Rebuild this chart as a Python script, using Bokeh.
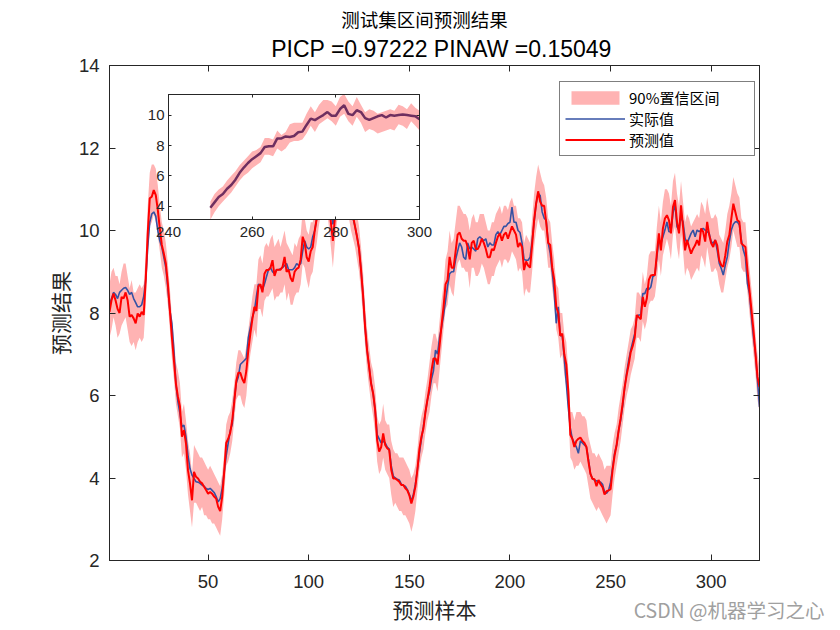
from bokeh.plotting import figure
from bokeh.models import (Range1d, LinearAxis, FixedTicker, Legend, LegendItem,
                          Label, GridBox, Column)
from bokeh.embed import file_html
from bokeh.resources import INLINE

# ---------------- data ----------------
ACTUAL = [
    8.20, 8.35, 8.50, 8.45, 8.35, 8.50, 8.55, 8.60, 8.62, 8.55,
    8.45, 8.50, 8.35, 8.25, 8.15, 8.15, 8.20, 8.40, 8.80, 9.60,
    10.20, 10.40, 10.45, 10.35, 10.00, 9.75, 9.60, 9.35, 9.10, 8.60,
    8.07, 7.75, 7.10, 6.29, 5.85, 5.56, 5.24, 5.28, 5.00, 4.55,
    4.23, 4.07, 3.99, 3.91, 3.90, 3.87, 3.83, 3.80, 3.75, 3.72,
    3.75, 3.70, 3.65, 3.55, 3.42, 3.50, 3.75, 4.15, 4.55, 4.85,
    5.15, 5.30, 5.90, 6.30, 6.45, 6.75, 6.80, 6.85, 6.90, 7.40,
    7.65, 7.90, 8.05, 8.40, 8.70, 8.65, 8.55, 8.70, 8.88, 9.05,
    9.10, 9.00, 8.95, 9.05, 9.05, 9.07, 9.10, 9.15, 9.20, 9.05,
    9.05, 9.05, 9.10, 9.20, 9.15, 9.20, 9.50, 9.75, 9.60, 9.55,
    9.60, 9.85, 10.00, 10.30, 10.70, 10.90, 11.10, 11.20, 11.00, 10.80,
    10.50, 10.15, 10.40, 10.70, 10.90, 11.10, 11.20, 11.00, 10.90, 10.80,
    10.60, 10.30, 10.10, 9.85, 9.56, 9.04, 8.43, 7.67, 7.10, 6.70,
    6.29, 6.05, 5.65, 5.05, 4.95, 4.85, 4.90, 4.85, 4.75, 4.70,
    4.30, 4.05, 4.00, 3.97, 3.95, 3.85, 3.82, 3.80, 3.72, 3.60,
    3.45, 3.60, 3.85, 4.20, 4.60, 4.95, 5.25, 5.60, 5.90, 6.10,
    6.40, 6.60, 7.10, 7.00, 7.40, 7.65, 7.95, 8.30, 8.65, 8.95,
    9.00, 9.00, 9.30, 9.50, 9.70, 9.60, 9.35, 9.30, 9.70, 9.55,
    9.60, 9.55, 9.50, 9.80, 9.85, 9.80, 9.75, 9.80, 9.60, 9.70,
    9.65, 9.65, 9.90, 9.97, 9.90, 10.00, 10.10, 10.10, 10.17, 10.20,
    10.57, 10.20, 10.20, 10.00, 9.95, 9.70, 9.30, 9.28, 9.28, 9.35,
    9.75, 10.20, 10.65, 10.90, 10.85, 10.45, 10.30, 10.25, 9.70, 9.45,
    9.00, 8.50, 7.75, 8.15, 7.45, 7.45, 6.90, 6.30, 5.70, 5.20,
    4.95, 4.85, 4.75, 4.60, 4.90, 4.85, 4.80, 4.75, 4.45, 4.10,
    3.98, 3.95, 3.93, 3.92, 3.90, 3.85, 3.67, 3.63, 3.70, 3.90,
    4.25, 4.60, 4.80, 5.15, 5.40, 5.75, 6.20, 6.55, 6.85, 7.10,
    7.30, 7.50, 7.90, 7.95, 7.95, 8.47, 8.47, 8.60, 8.57, 8.63,
    8.88, 8.92, 9.36, 9.78, 9.68, 9.85, 10.01, 10.21, 9.97, 9.97,
    10.41, 10.66, 10.09, 10.01, 10.33, 10.21, 9.81, 9.69, 9.81, 9.93,
    10.01, 9.85, 10.01, 9.97, 10.01, 10.05, 10.01, 9.97, 9.93, 9.73,
    9.69, 9.77, 9.52, 9.20, 9.08, 8.92, 9.16, 9.36, 9.73, 10.01,
    10.15, 10.21, 10.21, 10.13, 9.77, 9.52, 9.36, 8.72, 8.47, 7.91,
    7.42, 7.02, 6.37, 5.72,
]

PREDICTED = [
    8.03, 8.31, 8.47, 8.31, 8.10, 8.00, 8.39, 8.35, 8.50, 8.31,
    7.91, 7.95, 7.87, 7.75, 7.99, 7.91, 8.03, 7.95, 8.80, 9.93,
    10.78, 10.82, 10.98, 10.86, 10.50, 10.05, 9.65, 9.44, 9.20, 8.71,
    8.07, 7.42, 6.86, 6.29, 5.97, 5.74, 5.00, 5.16, 4.84, 4.19,
    3.87, 3.46, 4.15, 4.03, 3.99, 3.91, 3.87, 3.79, 3.71, 3.62,
    3.66, 3.62, 3.55, 3.50, 3.30, 3.20, 3.55, 4.15, 4.85, 4.95,
    5.10, 5.40, 5.85, 6.35, 6.55, 6.55, 6.40, 6.30, 6.60, 7.10,
    7.50, 7.85, 8.15, 8.05, 8.65, 8.70, 8.50, 8.95, 9.04, 9.04,
    9.10, 9.28, 8.90, 9.05, 9.05, 9.05, 9.12, 9.36, 9.00, 9.05,
    8.85, 8.76, 9.00, 9.07, 9.10, 9.30, 9.85, 9.70, 9.35, 9.25,
    9.50, 9.60, 10.00, 10.30, 10.70, 11.00, 11.20, 11.30, 11.10, 10.70,
    10.20, 9.75, 10.30, 10.80, 11.00, 11.20, 11.10, 11.00, 11.00, 10.90,
    10.60, 10.35, 10.10, 9.85, 9.56, 9.04, 8.43, 7.67, 7.10, 6.70,
    6.29, 6.05, 5.65, 4.92, 4.64, 4.75, 5.08, 4.80, 4.72, 4.68,
    4.20, 3.99, 3.99, 3.95, 3.91, 3.83, 3.83, 3.75, 3.70, 3.58,
    3.38, 3.55, 3.79, 4.20, 4.70, 5.00, 5.20, 5.60, 5.90, 6.20,
    6.60, 6.90, 6.90, 6.75, 7.20, 7.70, 8.15, 8.70, 8.80, 9.36,
    9.10, 9.10, 9.50, 9.90, 9.95, 9.80, 9.75, 9.75, 9.60, 9.30,
    9.70, 9.75, 9.55, 9.55, 9.65, 9.80, 9.70, 9.55, 9.35, 9.35,
    9.55, 9.52, 9.70, 9.85, 9.93, 9.75, 9.90, 9.95, 9.80, 9.95,
    10.10, 10.00, 9.90, 9.60, 9.70, 9.60, 9.04, 9.25, 9.15, 9.10,
    9.65, 10.25, 10.65, 10.95, 10.70, 10.60, 10.60, 10.20, 9.70, 9.65,
    9.10, 8.80, 8.15, 8.00, 7.45, 7.50, 7.00, 6.75, 6.10, 5.05,
    4.95, 4.75, 4.90, 4.95, 4.98, 4.90, 4.85, 4.75, 4.40, 4.10,
    3.98, 3.97, 3.80, 3.95, 3.85, 3.78, 3.60, 3.68, 3.70, 3.73,
    4.20, 4.55, 4.80, 5.15, 5.45, 5.80, 6.20, 6.50, 6.75, 7.05,
    7.20, 7.40, 7.95, 7.90, 7.85, 8.39, 8.15, 8.35, 8.80, 8.91,
    8.92, 8.92, 9.44, 9.93, 9.52, 10.05, 10.29, 10.37, 10.25, 9.93,
    10.57, 10.74, 10.21, 9.93, 10.61, 10.09, 9.52, 9.77, 9.60, 9.44,
    9.56, 9.64, 9.77, 9.64, 10.05, 9.97, 9.73, 10.21, 9.89, 9.69,
    9.60, 9.77, 9.64, 9.28, 9.16, 9.12, 9.40, 9.73, 9.89, 10.29,
    10.65, 10.45, 10.25, 10.21, 9.69, 9.64, 9.60, 9.04, 8.56, 8.07,
    7.58, 7.02, 6.45, 6.21,
]

UPPER = [
    8.7, 9.0, 9.1, 8.9, 8.9, 8.7, 9.0, 9.2, 9.2, 8.9,
    8.6, 8.8, 8.5, 8.5, 8.6, 8.7, 8.6, 8.7, 9.4, 10.6,
    11.4, 11.6, 11.6, 11.5, 11.1, 10.6, 10.2, 10.0, 9.7, 9.2,
    8.6, 7.9, 7.4, 6.8, 6.6, 6.3, 5.6, 5.8, 5.4, 4.9,
    4.6, 4.1, 4.8, 4.7, 4.6, 4.5, 4.5, 4.4, 4.3, 4.2,
    4.3, 4.2, 4.1, 4.0, 3.9, 3.8, 4.1, 4.6, 5.3, 5.5,
    5.6, 5.9, 6.3, 6.8, 7.1, 7.1, 7.0, 6.9, 7.2, 7.6,
    8.0, 8.4, 8.7, 8.7, 9.3, 9.4, 9.2, 9.6, 9.7, 9.6,
    9.8, 9.9, 9.6, 9.7, 9.8, 9.6, 9.8, 10.0, 9.7, 9.6,
    9.5, 9.4, 9.7, 9.6, 9.8, 9.9, 10.5, 10.3, 10.0, 9.9,
    10.2, 10.2, 10.6, 10.9, 11.3, 11.6, 11.8, 11.9, 11.7, 11.3,
    10.8, 10.4, 10.9, 11.4, 11.6, 11.8, 11.7, 11.6, 11.6, 11.5,
    11.2, 10.9, 10.7, 10.4, 10.1, 9.6, 9.0, 8.2, 7.6, 7.2,
    6.8, 6.6, 6.2, 5.5, 5.3, 5.4, 5.8, 5.4, 5.3, 5.3,
    4.9, 4.7, 4.6, 4.6, 4.5, 4.5, 4.5, 4.4, 4.3, 4.2,
    4.0, 4.1, 4.3, 4.7, 5.2, 5.5, 5.7, 6.1, 6.4, 6.8,
    7.2, 7.5, 7.5, 7.3, 7.8, 8.3, 8.7, 9.3, 9.5, 10.0,
    9.7, 9.8, 10.2, 10.6, 10.6, 10.5, 10.4, 10.4, 10.3, 10.0,
    10.3, 10.4, 10.2, 10.2, 10.4, 10.4, 10.4, 10.2, 10.0, 10.0,
    10.2, 10.2, 10.4, 10.5, 10.6, 10.4, 10.6, 10.6, 10.5, 10.7,
    10.8, 10.6, 10.6, 10.3, 10.3, 10.2, 9.7, 9.9, 9.8, 9.7,
    10.3, 10.9, 11.3, 11.6, 11.4, 11.2, 11.1, 10.8, 10.3, 10.2,
    9.7, 9.3, 8.7, 8.6, 8.0, 8.0, 7.5, 7.3, 6.6, 5.6,
    5.6, 5.4, 5.6, 5.6, 5.6, 5.5, 5.5, 5.4, 5.0, 4.8,
    4.6, 4.6, 4.5, 4.6, 4.5, 4.4, 4.2, 4.3, 4.3, 4.3,
    4.8, 5.1, 5.3, 5.7, 6.0, 6.3, 6.7, 7.0, 7.3, 7.6,
    7.7, 7.9, 8.5, 8.5, 8.4, 9.0, 8.7, 8.9, 9.4, 9.5,
    9.5, 9.5, 10.1, 10.6, 10.2, 10.7, 11.0, 11.0, 10.9, 10.6,
    11.2, 11.4, 10.9, 10.6, 11.2, 10.7, 10.2, 10.4, 10.3, 10.1,
    10.2, 10.3, 10.4, 10.3, 10.7, 10.6, 10.4, 10.8, 10.5, 10.3,
    10.3, 10.4, 10.3, 9.9, 9.8, 9.7, 10.0, 10.4, 10.6, 10.9,
    11.3, 11.1, 10.9, 10.8, 10.3, 10.2, 10.2, 9.6, 9.1, 8.6,
    8.1, 7.5, 7.0, 6.7,
]

LOWER = [
    7.4, 7.6, 7.9, 7.7, 7.4, 7.5, 7.7, 7.8, 7.9, 7.6,
    7.3, 7.2, 7.3, 7.1, 7.3, 7.4, 7.3, 7.4, 8.2, 9.3,
    10.1, 10.2, 10.4, 10.2, 9.9, 9.5, 9.1, 8.9, 8.6, 8.2,
    7.6, 6.9, 6.4, 5.8, 5.5, 5.2, 4.5, 4.6, 4.2, 3.6,
    3.2, 2.8, 3.4, 3.4, 3.3, 3.2, 3.3, 3.1, 3.1, 3.0,
    3.0, 2.9, 2.9, 2.8, 2.7, 2.6, 3.0, 3.6, 4.3, 4.4,
    4.6, 4.9, 5.4, 5.9, 6.0, 6.0, 5.8, 5.7, 6.0, 6.6,
    7.0, 7.3, 7.6, 7.4, 8.1, 8.1, 7.9, 8.3, 8.4, 8.4,
    8.5, 8.6, 8.3, 8.4, 8.4, 8.5, 8.5, 8.7, 8.3, 8.5,
    8.2, 8.2, 8.4, 8.5, 8.5, 8.7, 9.2, 9.1, 8.8, 8.6,
    8.9, 9.0, 9.4, 9.7, 10.1, 10.4, 10.6, 10.7, 10.5, 10.1,
    9.6, 9.1, 9.7, 10.2, 10.4, 10.6, 10.5, 10.4, 10.4, 10.3,
    10.0, 9.8, 9.6, 9.3, 9.0, 8.5, 7.9, 7.2, 6.6, 6.2,
    5.8, 5.5, 5.1, 4.4, 4.1, 4.2, 4.5, 4.2, 4.1, 4.0,
    3.6, 3.3, 3.4, 3.3, 3.2, 3.2, 3.1, 3.1, 3.0, 2.9,
    2.7, 2.9, 3.2, 3.7, 4.2, 4.5, 4.7, 5.1, 5.4, 5.6,
    6.0, 6.3, 6.3, 6.1, 6.6, 7.1, 7.6, 8.1, 8.2, 8.7,
    8.5, 8.4, 8.9, 9.2, 9.3, 9.1, 9.1, 9.0, 9.0, 8.6,
    9.1, 9.1, 8.9, 8.9, 9.0, 9.2, 9.1, 8.9, 8.7, 8.7,
    8.9, 8.9, 9.1, 9.2, 9.3, 9.1, 9.3, 9.3, 9.2, 9.3,
    9.5, 9.4, 9.3, 9.0, 9.1, 9.0, 8.4, 8.6, 8.5, 8.5,
    9.0, 9.6, 10.0, 10.3, 10.1, 10.0, 10.0, 9.6, 9.1, 9.1,
    8.6, 8.2, 7.6, 7.4, 6.9, 7.0, 6.5, 6.2, 5.6, 4.5,
    4.4, 4.2, 4.3, 4.3, 4.4, 4.3, 4.2, 4.1, 3.8, 3.5,
    3.4, 3.3, 3.2, 3.3, 3.2, 3.1, 3.0, 2.9, 3.0, 3.1,
    3.6, 4.0, 4.3, 4.6, 4.9, 5.3, 5.7, 6.0, 6.2, 6.5,
    6.7, 6.9, 7.4, 7.4, 7.3, 7.8, 7.6, 7.8, 8.2, 8.3,
    8.3, 8.4, 8.8, 9.3, 8.9, 9.4, 9.6, 9.8, 9.6, 9.3,
    9.9, 10.1, 9.6, 9.3, 9.9, 9.5, 8.9, 9.1, 9.0, 8.8,
    8.9, 9.0, 9.1, 9.0, 9.4, 9.3, 9.1, 9.6, 9.3, 9.0,
    9.0, 9.1, 9.0, 8.7, 8.5, 8.5, 8.8, 9.1, 9.3, 9.6,
    10.0, 9.8, 9.6, 9.6, 9.1, 9.0, 9.0, 8.5, 8.0, 7.5,
    7.0, 6.5, 5.9, 5.6,
]

SAMPLES = list(range(1, len(ACTUAL) + 1))

X_TICKS = [50, 100, 150, 200, 250, 300]
Y_TICKS = [2, 4, 6, 8, 10, 12, 14]
INSET_X_TICKS = [240, 260, 280, 300]
INSET_Y_TICKS = [4, 6, 8, 10]
INSET_FIRST_SAMPLE = 250
INSET_LAST_SAMPLE = 300

TITLE_1 = "测试集区间预测结果"
TITLE_2 = "PICP =0.97222 PINAW =0.15049"
X_LABEL = "预测样本"
Y_LABEL = "预测结果"
LEGEND_LABELS = ["90%置信区间", "实际值", "预测值"]
WATERMARK = "CSDN @机器学习之心"

# ---------------- styles ----------------
BAND_COLOR = "#FFB3B3"
BLUE = "#3452A4"
RED = "#FF0000"
INSET_LINE = "#6F2F60"
AXIS_COLOR = "#262626"
LATIN = "Liberation Sans"
CJK = "Noto Sans CJK SC"

W, H = 832, 628


def no_frame_align(fig):
    if "frame_align" in fig.properties():
        fig.frame_align = False


def style_axis(ax, ticks, font_size, standoff, tick_len, show_labels=True):
    ax.ticker = FixedTicker(ticks=ticks)
    ax.major_tick_in = tick_len
    ax.major_tick_out = 0
    ax.minor_tick_in = 0
    ax.minor_tick_out = 0
    ax.axis_line_color = AXIS_COLOR
    ax.major_tick_line_color = AXIS_COLOR
    ax.major_label_text_font = LATIN
    ax.major_label_standoff = standoff
    if show_labels:
        ax.major_label_text_font_size = font_size
        ax.major_label_text_color = AXIS_COLOR
    else:
        ax.major_label_text_font_size = "1px"
        ax.major_label_text_color = None
        ax.major_label_standoff = 0


# ---------------- main axes ----------------
p = figure(width=W, height=H,
           x_range=Range1d(1, 324), y_range=Range1d(2, 14),
           output_backend="svg", toolbar_location=None,
           min_border_left=109, min_border_right=73,
           min_border_top=65, min_border_bottom=68,
           background_fill_color="white", border_fill_color="white",
           outline_line_color=AXIS_COLOR, outline_line_width=1)
no_frame_align(p)
p.xgrid.visible = False
p.ygrid.visible = False

band = p.varea(x=SAMPLES, y1=LOWER, y2=UPPER, fill_color=BAND_COLOR, fill_alpha=1.0)
actual_r = p.line(SAMPLES, ACTUAL, line_color=BLUE, line_width=1.6)
pred_r = p.line(SAMPLES, PREDICTED, line_color=RED, line_width=2.0)

xa = p.below[0]
ya = p.left[0]
style_axis(xa, X_TICKS, "18.5px", 14, 6)
style_axis(ya, Y_TICKS, "18.5px", 10, 6)
for ax, lab, so in ((xa, X_LABEL, 3), (ya, Y_LABEL, 1)):
    ax.axis_label = lab
    ax.axis_label_text_font = CJK
    ax.axis_label_text_font_size = "21px"
    ax.axis_label_text_font_style = "normal"
    ax.axis_label_text_color = AXIS_COLOR
    ax.axis_label_standoff = so

top_ax = LinearAxis()
style_axis(top_ax, X_TICKS, "1px", 0, 6, show_labels=False)
p.add_layout(top_ax, "above")
right_ax = LinearAxis()
style_axis(right_ax, Y_TICKS, "1px", 0, 6, show_labels=False)
p.add_layout(right_ax, "right")

legend = Legend(
    items=[LegendItem(label=LEGEND_LABELS[0], renderers=[band]),
           LegendItem(label=LEGEND_LABELS[1], renderers=[actual_r]),
           LegendItem(label=LEGEND_LABELS[2], renderers=[pred_r])],
    location=(450, 404),
    label_text_font=CJK, label_text_font_size="15px", label_text_color="black",
    glyph_width=60, glyph_height=17, label_height=20, label_width=120,
    label_standoff=4, padding=5, spacing=0, margin=0,
    border_line_color="black", border_line_width=1,
    background_fill_color="white", background_fill_alpha=1.0,
)
p.add_layout(legend)

# ---------------- inset axes ----------------
inset = figure(width=321, height=185,
               x_range=Range1d(240, 300), y_range=Range1d(3.12, 11.37),
               output_backend="svg", toolbar_location=None,
               min_border_left=40, min_border_right=30,
               min_border_top=30, min_border_bottom=30,
               background_fill_color="white", border_fill_color=None,
               outline_line_color=AXIS_COLOR, outline_line_width=1)
no_frame_align(inset)
inset.xgrid.visible = False
inset.ygrid.visible = False
i0 = INSET_FIRST_SAMPLE - 1
i1 = INSET_LAST_SAMPLE
inset.varea(x=SAMPLES[i0:i1], y1=LOWER[i0:i1], y2=UPPER[i0:i1],
            fill_color=BAND_COLOR, fill_alpha=1.0)
inset.line(SAMPLES[i0:i1], ACTUAL[i0:i1], line_color=INSET_LINE, line_width=2.5)

style_axis(inset.below[0], INSET_X_TICKS, "15px", 7, 3)
style_axis(inset.left[0], INSET_Y_TICKS, "15px", 4, 3)
itop = LinearAxis()
style_axis(itop, INSET_X_TICKS, "1px", 0, 3, show_labels=False)
inset.add_layout(itop, "above")
iright = LinearAxis()
style_axis(iright, INSET_Y_TICKS, "1px", 0, 3, show_labels=False)
inset.add_layout(iright, "right")
inset.margin = (64, 0, 0, 128)

# ---------------- title / watermark layer (canvas pixel coordinates) ----------------
annot = figure(width=W, height=H, x_range=Range1d(0, W), y_range=Range1d(H, 0),
               output_backend="svg", toolbar_location=None, min_border=0,
               background_fill_color=None, border_fill_color=None,
               outline_line_color=None)
no_frame_align(annot)
annot.axis.visible = False
annot.xgrid.visible = False
annot.ygrid.visible = False
annot.add_layout(Label(x=424, y=18, text=TITLE_1, text_font=CJK,
                       text_font_size="18.5px", text_align="center",
                       text_baseline="middle", text_color="black"))
annot.add_layout(Label(x=441, y=48, text=TITLE_2, text_font=LATIN,
                       text_font_size="23px", text_align="center",
                       text_baseline="middle", text_color="black"))
annot.add_layout(Label(x=824, y=609, text=WATERMARK, text_font=CJK,
                       text_font_size="19.5px", text_align="right",
                       text_baseline="middle", text_color="#A0A0A0"))

layout = GridBox(children=[(p, 0, 0),
                           (Column(children=[inset]), 0, 0),
                           (Column(children=[annot]), 0, 0)])

open("out.html", "w").write(file_html(layout, INLINE))
